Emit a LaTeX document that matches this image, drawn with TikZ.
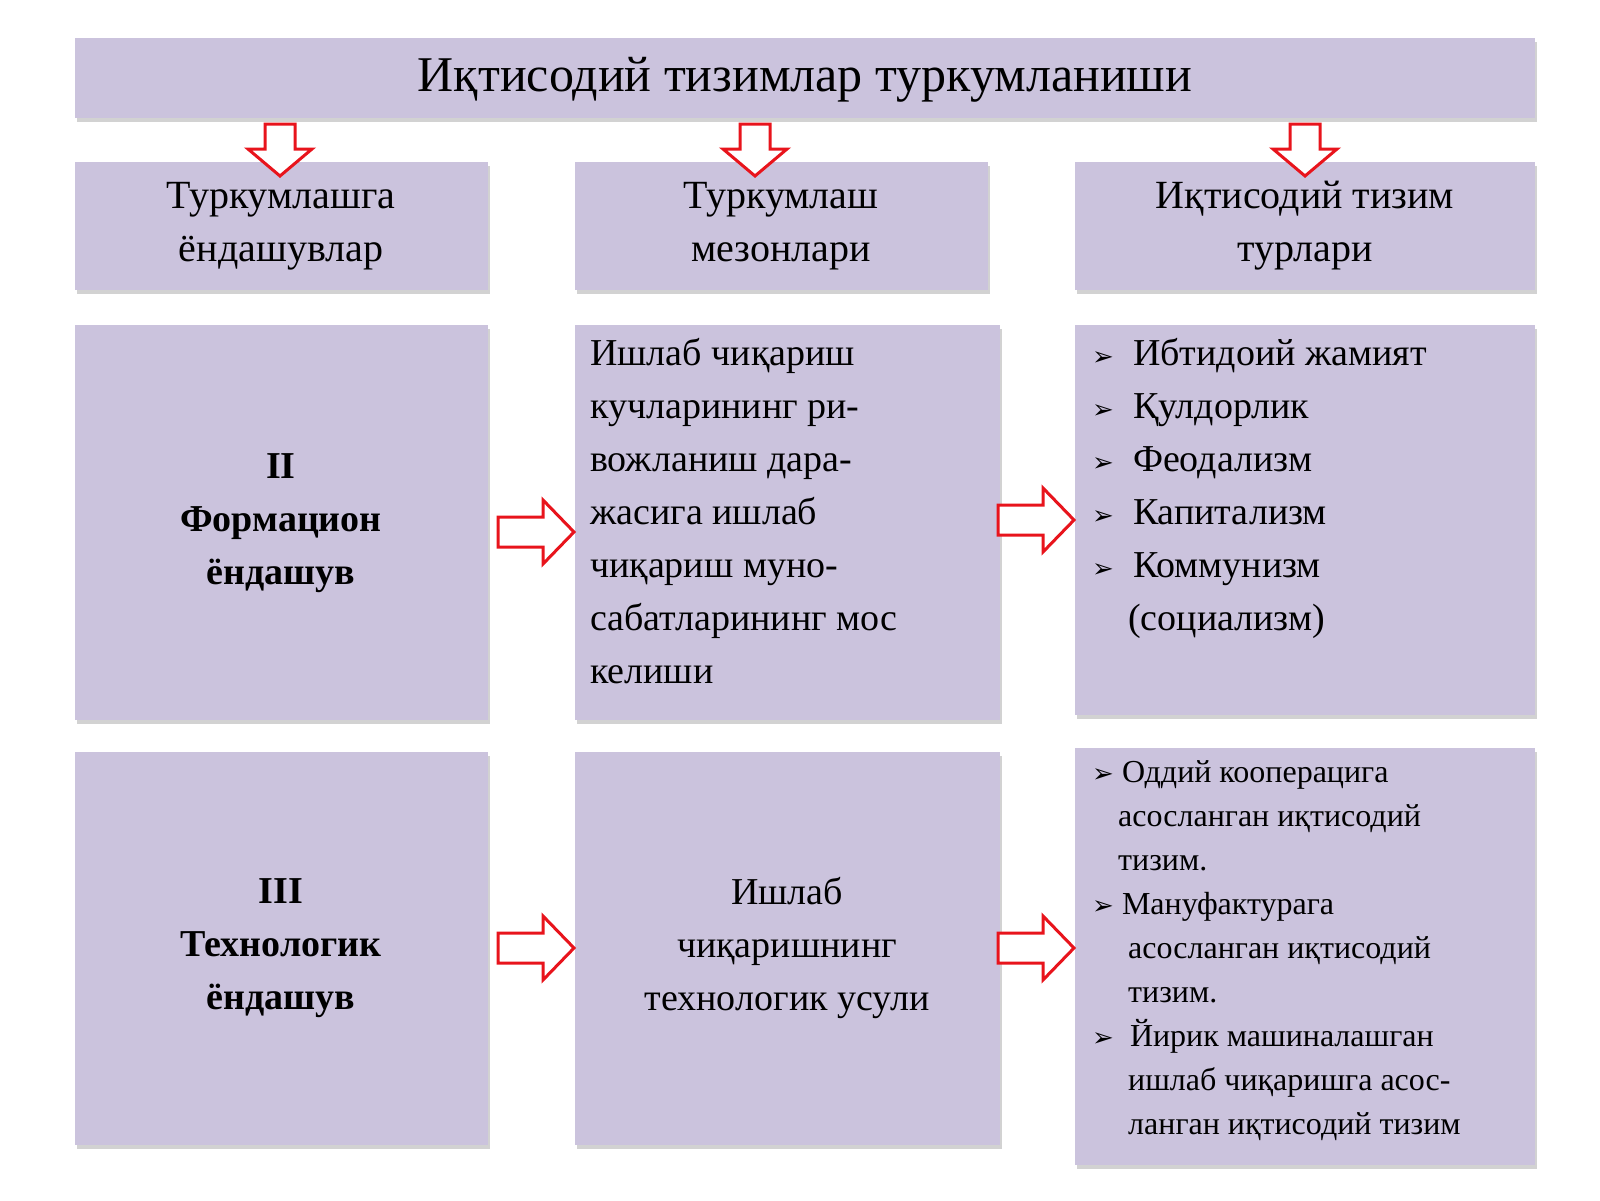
\documentclass[tikz,border=0pt]{standalone}
\usepackage{fontspec}
\setmainfont{Liberation Serif}
\newfontfamily\symf{DejaVu Sans}
\usetikzlibrary{shadows}
\definecolor{boxc}{HTML}{CBC3DD}
\definecolor{arr}{HTML}{E8141C}
\tikzset{x=1pt,y=-1pt,
 box/.style={fill=boxc,draw=none,drop shadow={shadow xshift=2pt,shadow yshift=-4pt,opacity=0.35}},
 arrw/.style={draw=arr,line width=3pt,fill=white,line join=miter},
 txt/.style={inner sep=0pt,font=\fontsize{38}{53}\selectfont}}
\newcommand{\blt}{{\symf\fontsize{26}{26}\selectfont ➢}}
\newcommand{\downarr}[2]{\draw[arrw] (#1-15,#2) -- (#1+15,#2) -- (#1+15,#2+25) -- (#1+32,#2+25) -- (#1,#2+52) -- (#1-32,#2+25) -- (#1-15,#2+25) -- cycle;}
\newcommand{\rightarr}[2]{\draw[arrw] (#1,#2-15) -- (#1+45,#2-15) -- (#1+45,#2-32) -- (#1+76,#2) -- (#1+45,#2+32) -- (#1+45,#2+15) -- (#1,#2+15) -- cycle;}
\begin{document}
\begin{tikzpicture}
\useasboundingbox[fill=white] (0,0) rectangle (1600,1200);
\path[box] (75,38) rectangle (1535,118);
\node[txt,font=\fontsize{50}{60}\selectfont] (t) at (805,80) {Иқтисодий тизимлар туркумланиши};
\path[box] (75,162) rectangle (488,290);
\path[box] (575,162) rectangle (988,290);
\path[box] (1075,162) rectangle (1535,290);
\node[txt,align=center,font=\fontsize{40}{53}\selectfont] (a1) at (281,226) {Туркумлашга\\ёндашувлар};
\node[txt,align=center,font=\fontsize{40}{53}\selectfont] (a2) at (781,226) {Туркумлаш\\мезонлари};
\node[txt,align=center,font=\fontsize{40}{53}\selectfont] (a3) at (1305,226) {Иқтисодий тизим\\турлари};
\downarr{280}{124}
\downarr{755}{124}
\downarr{1305}{124}
\path[box] (75,325) rectangle (488,720);
\path[box] (575,325) rectangle (1000,720);
\path[box] (1075,325) rectangle (1535,715);
\node[txt,align=center,font=\bfseries\fontsize{38}{53}\selectfont] (b1) at (281,523) {II\\Формацион\\ёндашув};
\node[txt,align=left,anchor=north west] (b2) at (590,338) {Ишлаб чиқариш\\кучларининг ри-\\вожланиш дара-\\жасига ишлаб\\чиқариш муно-\\сабатларининг мос\\келиши};
\node[txt,align=left,anchor=north west] (b3) at (1092,338) {\blt\ \ Ибтидоий жамият\\\blt\ \ Қулдорлик\\\blt\ \ Феодализм\\\blt\ \ Капитализм\\\blt\ \ Коммунизм\\\hspace*{36pt}(социализм)};
\rightarr{498}{532}
\rightarr{998}{520}
\path[box] (75,752) rectangle (488,1145);
\path[box] (575,752) rectangle (1000,1145);
\path[box] (1075,748) rectangle (1535,1165);
\node[txt,align=center,font=\bfseries\fontsize{38}{53}\selectfont] (c1) at (281,948) {III\\Технологик\\ёндашув};
\node[txt,align=center] (c2) at (787,948) {Ишлаб\\чиқаришнинг\\технологик усули};
\node[txt,align=left,anchor=north west,font=\fontsize{32}{44}\selectfont] (c3) at (1092,760) {\blt\ Оддий кооперацига\\\hspace*{26pt}асосланган иқтисодий\\\hspace*{26pt}тизим.\\\blt\ Мануфактурага\\\hspace*{36pt}асосланган иқтисодий\\\hspace*{36pt}тизим.\\\blt\ \ Йирик машиналашган\\\hspace*{36pt}ишлаб чиқаришга асос-\\\hspace*{36pt}ланган иқтисодий тизим};
\rightarr{498}{948}
\rightarr{998}{948}
\end{tikzpicture}
\end{document}
